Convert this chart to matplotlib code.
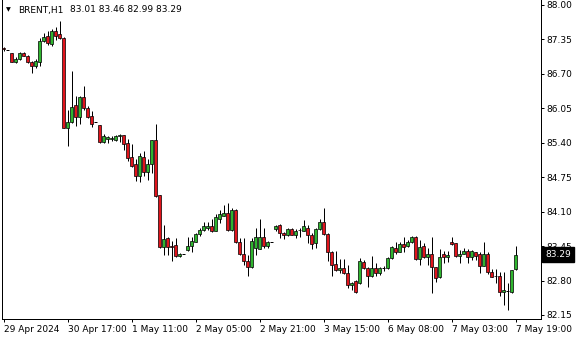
import numpy as np
import matplotlib.pyplot as plt

# BRENT H1 candles, oldest first
opens = [87.19, 87.15, 87.09, 86.93, 86.98, 87.09, 87.04, 86.93, 86.85, 86.93,
         87.32, 87.42, 87.26, 87.50, 87.45, 87.38, 85.68, 85.79, 86.11, 85.88,
         86.26, 86.06, 85.91, 85.79, 85.73, 85.42, 85.48, 85.48, 85.45, 85.52,
         85.54, 85.39, 85.14, 84.99, 84.77, 85.14, 84.85, 85.00, 85.45, 84.41,
         83.44, 83.61, 83.46, 83.47, 83.27, 83.30, 83.37, 83.45, 83.53, 83.67,
         83.75, 83.79, 83.82, 83.74, 83.97, 84.02, 84.07, 83.75, 84.13, 83.53,
         83.31, 83.17, 83.05, 83.41, 83.40, 83.62, 83.46, 83.52, 83.77, 83.85,
         83.69, 83.65, 83.77, 83.66, 83.75, 83.74, 83.80, 83.66, 83.50, 83.77,
         83.91, 83.68, 83.34, 83.11, 82.99, 83.03, 82.94, 82.72, 82.79, 82.75,
         83.15, 83.03, 82.89, 83.03, 82.95, 83.03, 83.03, 83.22, 83.41, 83.34,
         83.48, 83.46, 83.52, 83.62, 83.20, 83.45, 83.25, 83.31, 83.05, 82.86,
         83.31, 83.24, 83.52, 83.50, 83.27, 83.31, 83.35, 83.25, 83.33, 83.31,
         83.08, 83.31, 82.96, 82.89, 82.89, 82.58, 82.61, 82.59, 83.01]
highs = [87.21, 87.15, 87.10, 87.02, 87.11, 87.11, 87.05, 86.95, 86.98, 87.37,
         87.48, 87.50, 87.54, 87.59, 87.70, 87.39, 86.02, 86.75, 86.28, 86.28,
         86.47, 86.09, 85.99, 85.79, 85.74, 85.57, 85.53, 85.52, 85.55, 85.57,
         85.55, 85.47, 85.38, 85.09, 85.21, 85.25, 85.09, 85.46, 85.75, 84.41,
         83.84, 83.63, 83.55, 83.60, 83.32, 83.30, 83.63, 83.63, 83.70, 83.79,
         83.90, 83.90, 83.96, 84.06, 84.13, 84.23, 84.26, 84.16, 84.15, 83.61,
         83.60, 83.28, 83.61, 83.80, 83.97, 83.79, 83.55, 83.52, 83.85, 83.86,
         83.71, 83.80, 83.79, 83.77, 83.79, 83.94, 83.85, 83.69, 83.79, 83.96,
         84.16, 83.69, 83.36, 83.36, 83.20, 83.20, 83.09, 82.77, 82.81, 83.22,
         83.19, 83.06, 83.26, 83.14, 83.06, 83.07, 83.25, 83.45, 83.52, 83.53,
         83.62, 83.57, 83.64, 83.64, 83.57, 83.50, 83.41, 83.63, 83.06, 83.39,
         83.36, 83.36, 83.62, 83.51, 83.38, 83.41, 83.40, 83.38, 83.34, 83.34,
         83.52, 83.33, 83.01, 83.01, 82.96, 82.97, 82.75, 83.00, 83.46]
lows = [87.14, 87.15, 86.92, 86.90, 86.96, 87.03, 86.91, 86.72, 86.81, 86.84,
        87.31, 87.25, 87.23, 87.34, 87.36, 85.67, 85.33, 85.77, 85.72, 85.76,
        86.02, 85.86, 85.70, 85.79, 85.40, 85.40, 85.40, 85.43, 85.43, 85.41,
        85.26, 85.06, 84.94, 84.67, 84.65, 84.78, 84.70, 84.82, 84.38, 83.42,
        83.29, 83.28, 83.16, 83.25, 83.25, 83.30, 83.36, 83.34, 83.52, 83.64,
        83.73, 83.75, 83.71, 83.73, 83.88, 84.01, 83.73, 83.73, 83.50, 83.28,
        83.09, 82.89, 83.03, 83.28, 83.39, 83.41, 83.41, 83.52, 83.74, 83.60,
        83.58, 83.64, 83.65, 83.61, 83.62, 83.73, 83.50, 83.39, 83.41, 83.75,
        83.66, 83.16, 82.89, 82.98, 82.94, 82.92, 82.65, 82.63, 82.57, 82.73,
        83.02, 82.67, 82.86, 82.89, 82.90, 82.98, 83.02, 83.20, 83.31, 83.33,
        83.34, 83.43, 83.51, 83.19, 83.09, 83.23, 83.09, 82.57, 82.78, 82.85,
        83.13, 83.15, 83.47, 83.25, 83.14, 83.30, 83.13, 83.19, 83.19, 82.95,
        83.07, 82.92, 82.86, 82.75, 82.51, 82.33, 82.24, 82.57, 82.99]
closes = [87.16, 87.15, 86.93, 86.99, 87.09, 87.04, 86.92, 86.85, 86.94, 87.32,
          87.40, 87.28, 87.50, 87.42, 87.37, 85.68, 85.79, 86.07, 85.89, 86.26,
          86.06, 85.88, 85.76, 85.79, 85.42, 85.52, 85.50, 85.49, 85.53, 85.54,
          85.38, 85.12, 84.97, 84.78, 85.15, 84.85, 85.00, 85.45, 84.40, 83.44,
          83.58, 83.43, 83.43, 83.27, 83.31, 83.30, 83.45, 83.54, 83.68, 83.75,
          83.82, 83.82, 83.74, 83.99, 84.06, 84.08, 83.75, 84.13, 83.53, 83.30,
          83.16, 83.05, 83.55, 83.62, 83.62, 83.46, 83.52, 83.52, 83.83, 83.69,
          83.65, 83.77, 83.66, 83.74, 83.76, 83.83, 83.65, 83.48, 83.77, 83.90,
          83.68, 83.33, 83.10, 83.00, 83.03, 82.94, 82.72, 82.76, 82.59, 83.17,
          83.03, 82.89, 83.03, 82.95, 83.03, 83.03, 83.23, 83.43, 83.34, 83.48,
          83.44, 83.52, 83.62, 83.20, 83.43, 83.24, 83.31, 83.05, 82.84, 83.24,
          83.24, 83.28, 83.49, 83.27, 83.31, 83.35, 83.25, 83.35, 83.27, 83.08,
          83.31, 82.96, 82.87, 82.88, 82.59, 82.62, 82.61, 82.99, 83.29]

time_pos = [0, 16, 32, 48, 64, 80, 96, 112, 128]
time_labels = ['29 Apr 2024', '30 Apr 17:00', '1 May 11:00', '2 May 05:00',
               '2 May 21:00', '3 May 15:00', '6 May 08:00', '7 May 03:00',
               '7 May 19:00']
price_ticks = [82.15, 82.80, 83.45, 84.10, 84.75, 85.40, 86.05, 86.70, 87.35, 88.00]

o = np.array(opens)
h = np.array(highs)
l = np.array(lows)
c = np.array(closes)
x = np.arange(len(o))

px = 0.72  # one pixel in points at 100 dpi
fs = 6.5
plt.rcParams['font.family'] = 'DejaVu Sans'

fig = plt.figure(figsize=(5.8, 3.4), dpi=100)
ax = fig.add_axes([2/580, 21/340, 539/580, 319/340])
ymin, ymax = 82.074, 88.094

# wicks
ax.vlines(x, l, h, colors='black', linewidth=px, zorder=2)

# bodies: coloured fill with a black outline
lo = np.minimum(o, c)
hi = np.maximum(o, c)
up = c > o
down = c < o
ax.bar(x[up], (hi - lo)[up], bottom=lo[up], width=0.65,
       facecolor='#2fb52f', edgecolor='black', linewidth=0.7 * px, zorder=3)
ax.bar(x[down], (hi - lo)[down], bottom=lo[down], width=0.65,
       facecolor='#e0141c', edgecolor='black', linewidth=0.7 * px, zorder=3)
doji = c == o
ax.hlines(o[doji], x[doji] - 0.375, x[doji] + 0.375, colors='black',
          linewidth=px, zorder=3)

# 4 px per bar, bar centres on pixel centres
ax.set_xlim(-0.375, 134.375)
ax.set_ylim(ymin, ymax)

ax.yaxis.tick_right()
ax.set_yticks(price_ticks)
ax.set_yticklabels([f'{p:.2f}' for p in price_ticks])
ax.set_xticks(time_pos)
ax.set_xticklabels(time_labels, ha='left')
ax.tick_params(axis='both', direction='out', length=3*px, width=px,
               labelsize=fs, colors='black')
ax.tick_params(axis='y', pad=1.5)
ax.tick_params(axis='x', pad=2)

ax.spines['top'].set_visible(False)
for s in ['left', 'bottom', 'right']:
    ax.spines[s].set_linewidth(px)
    ax.spines[s].set_color('black')

# last price tag
ax.annotate(f'{closes[-1]:.2f}', xy=(1.0, closes[-1]),
            xycoords=('axes fraction', 'data'), xytext=(3, 0),
            textcoords='offset points', ha='left', va='center',
            fontsize=fs, color='white', annotation_clip=False, zorder=10,
            bbox=dict(boxstyle='square,pad=0.3', fc='black', ec='black'))

# header
fig.text(6/580, 1 - 10/340, '\u25bc', fontsize=4.5, va='center', ha='left')
fig.text(18/580, 1 - 10/340, 'BRENT,H1', fontsize=fs, va='center', ha='left')
fig.text(70/580, 1 - 10/340,
         f'{opens[-1]:.2f} {highs[-1]:.2f} {lows[-1]:.2f} {closes[-1]:.2f}',
         fontsize=fs, va='center', ha='left')

fig.savefig('out.png', dpi=100)
